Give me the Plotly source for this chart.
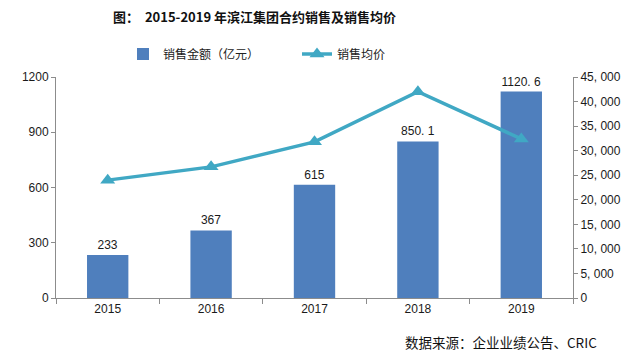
import plotly.graph_objects as go

years = ["2015", "2016", "2017", "2018", "2019"]
sales_amount = [233, 367, 615, 850.1, 1120.6]          # 销售金额（亿元）
avg_price = [24000, 26700, 31800, 42000, 32400]         # 销售均价
right_ticks = [0, 5000, 10000, 15000, 20000, 25000, 30000, 35000, 40000, 45000]

bar_labels = [("%g" % v).replace(".", ". ") for v in sales_amount]
right_ticktext = ["0" if v == 0 else "{:,}".format(v).replace(",", ", ") for v in right_ticks]

axis_col = "#8c8c8c"
tick_font = dict(family="Liberation Sans, Arial, sans-serif", size=12, color="#1a1a1a")

fig = go.Figure()
fig.add_trace(go.Bar(
    x=years, y=sales_amount, name="销售金额（亿元）",
    marker=dict(color="#4f7fbd", line=dict(width=0)),
    text=bar_labels, textposition="outside", cliponaxis=False,
    textfont=dict(family="Liberation Sans, Arial, sans-serif", size=12, color="#1a1a1a"),
    yaxis="y",
))
fig.add_trace(go.Scatter(
    x=years, y=avg_price, name="销售均价", mode="lines+markers",
    line=dict(color="#40a8c4", width=3.5),
    marker=dict(symbol="triangle-up", size=13, color="#40a8c4"),
    yaxis="y2",
))

fig.update_layout(
    width=640, height=357,
    margin=dict(l=56, r=67, t=77, b=59, autoexpand=False),
    paper_bgcolor="white", plot_bgcolor="white",
    bargap=0.6,
    title=dict(
        text="<b>图：  2015-2019 年滨江集团合约销售及销售均价</b>",
        x=113 / 640, xref="container", xanchor="left",
        y=1 - 17 / 357, yref="container", yanchor="middle",
        font=dict(family="Noto Sans CJK SC", size=13, color="#111"),
    ),
    legend=dict(
        orientation="h", xref="container", yref="container",
        x=123 / 640, xanchor="left", y=1 - 54 / 357, yanchor="middle",
        entrywidth=129, entrywidthmode="pixels",
        font=dict(family="Noto Sans CJK SC", size=12, color="#222"),
        bgcolor="rgba(0,0,0,0)",
    ),
    xaxis=dict(
        type="category", showline=True, linecolor=axis_col, linewidth=1,
        ticks="outside", tickson="boundaries", ticklen=5, tickcolor=axis_col,
        tickfont=tick_font, showgrid=False, zeroline=False,
    ),
    yaxis=dict(
        range=[0, 1200], dtick=300, showline=True, linecolor=axis_col, linewidth=1,
        ticks="outside", ticklen=4, tickcolor=axis_col, tickfont=tick_font,
        showgrid=False, zeroline=False,
    ),
    yaxis2=dict(
        overlaying="y", side="right", range=[0, 45000],
        tickvals=right_ticks, ticktext=right_ticktext,
        showline=True, linecolor=axis_col, linewidth=1,
        ticks="outside", ticklen=4, tickcolor=axis_col, tickfont=tick_font,
        showgrid=False, zeroline=False,
    ),
    annotations=[dict(
        text="数据来源：企业业绩公告、CRIC",
        xref="paper", yref="paper", x=(403 - 56) / 517, y=(298 - 342) / 221,
        xanchor="left", yanchor="middle", showarrow=False,
        font=dict(family="Noto Sans CJK SC", size=13.5, color="#111"),
    )],
)

fig.write_html(
    "out.html",
    config={"displayModeBar": False},
    post_script="document.body.style.margin='0';document.body.style.overflow='hidden';",
)
